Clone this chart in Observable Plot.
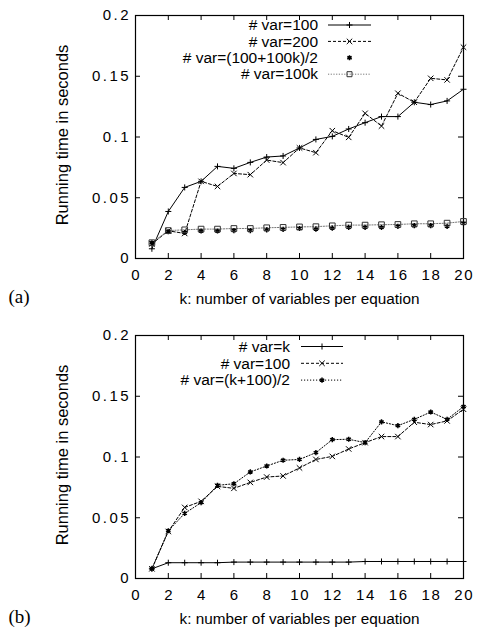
<!DOCTYPE html>
<html><head><meta charset="utf-8">
<script src="https://cdn.jsdelivr.net/npm/d3@7"></script>
<script src="https://cdn.jsdelivr.net/npm/@observablehq/plot@0.6"></script>
<style>
body{margin:0;background:#fff}
#chart{width:477px}
#chart svg{display:block}
#chart g[aria-label="y-axis tick label"]{letter-spacing:2.4px}
#chart g[aria-label="x-axis tick label"]{letter-spacing:1.6px}
</style>
</head><body><div id="chart"></div>
<script>
// ---- data ----
const k = [1,2,3,4,5,6,7,8,9,10,11,12,13,14,15,16,17,18,19,20];
const xTickLabels = [0,2,4,6,8,10,12,14,16,18,20];
const yTickLabels = [0,0.05,0.1,0.15,0.2];

// panel (a)
const var100   = [0.008,0.0387,0.0585,0.0635,0.0758,0.0742,0.0791,0.0835,0.0844,0.091,0.098,0.1005,0.1066,0.1118,0.1168,0.1168,0.1286,0.1267,0.1297,0.1393];
const var200   = [0.012,0.0228,0.0206,0.0635,0.0593,0.070,0.069,0.081,0.0789,0.091,0.0871,0.1052,0.0997,0.1195,0.109,0.136,0.1286,0.1483,0.147,0.1739];
const varMidA  = [0.013,0.022,0.0214,0.0226,0.0226,0.023,0.023,0.0236,0.024,0.0247,0.0242,0.025,0.0256,0.0256,0.0256,0.0264,0.027,0.027,0.0264,0.029];
const var100k  = [0.013,0.023,0.0236,0.0242,0.0242,0.0247,0.0247,0.0253,0.0256,0.026,0.0262,0.0269,0.0275,0.0275,0.0278,0.028,0.0286,0.0286,0.0291,0.0305];
// panel (b)
const varK     = [0.008,0.013,0.013,0.013,0.013,0.0135,0.0135,0.0135,0.0135,0.0135,0.0135,0.0135,0.0135,0.014,0.014,0.014,0.014,0.014,0.014,0.014];
const varMidB  = [0.008,0.0393,0.0536,0.0624,0.0767,0.078,0.0877,0.0926,0.0973,0.098,0.1036,0.1143,0.1146,0.1118,0.1289,0.1258,0.131,0.137,0.131,0.1415];

const namesA = ["# var=100","# var=200","# var=(100+100k)/2","# var=100k"];
const namesB = ["# var=k","# var=100","# var=(k+100)/2"];
const xLabel = "k: number of variables per equation";
const yLabel = "Running time in seconds";

// ---- styles ----
const FONT = "'Liberation Sans', Arial, Helvetica, sans-serif";
const styles = {
  solid:  {stroke:"#000", strokeWidth:1, dash:null},
  dashed: {stroke:"#000", strokeWidth:1, dash:"3,2"},
  dotted: {stroke:"#000", strokeWidth:1, dash:"1.2,1.8"},
  dottedGrey: {stroke:"#777", strokeWidth:1, dash:"1.2,1.5"},
  none: null
};

const W = 477, mL = 135, mR = 14, mT = 15;
const plotH = 243, plotW = W - mL - mR;

function panel({series, height, tag, legend}) {
  const marks = [
    Plot.frame({stroke:"#000", strokeWidth:1.2}),
    Plot.tickX(xTickLabels, {x:d=>d, insetTop: plotH-5, stroke:"#000"}),
    Plot.tickX(xTickLabels, {x:d=>d, insetBottom: plotH-5, stroke:"#000"}),
    Plot.tickY(yTickLabels, {y:d=>d, insetRight: plotW-5, stroke:"#000"}),
    Plot.tickY(yTickLabels, {y:d=>d, insetLeft: plotW-5, stroke:"#000"}),
    Plot.axisX({ticks:xTickLabels, tickSize:0, tickPadding:11, dx:0.8, label:null, fontSize:15, fill:"#000"}),
    Plot.axisY({ticks:yTickLabels, tickSize:0, tickPadding:4.6, tickFormat:d3.format("~g"), label:null, fontSize:15, fill:"#000"}),
    Plot.text([xLabel], {text:d=>d, frameAnchor:"bottom", dy:45, lineAnchor:"bottom", fontSize:15.3, fill:"#000"}),
    Plot.text([yLabel], {text:d=>d, frameAnchor:"left", textAnchor:"middle", dx:-73, dy:-2, rotate:-90, fontSize:16.5, fill:"#000"}),
    Plot.text([tag], {text:d=>d, frameAnchor:"bottom-left", textAnchor:"start", dx:-127, dy:44, lineAnchor:"bottom", fontSize:19, fontFamily:"'Liberation Serif', 'Times New Roman', serif", fill:"#000"})
  ];
  for (const s of series) {
    const st = styles[s.line];
    if (st) marks.push(Plot.line(k, {x:k, y:s.values, stroke:st.stroke, strokeWidth:st.strokeWidth, strokeDasharray:st.dash}));
  }
  for (const s of series) {
    marks.push(Plot.dot(k, {x:k, y:s.values, symbol:s.symbol, r:s.r, stroke:s.mstroke||"#000", fill:s.symbol==="square"?"none":undefined, strokeWidth:s.msw||1}));
  }
  const svg = Plot.plot({
    width: W, height, marginLeft: mL, marginRight: mR, marginTop: mT, marginBottom: height - mT - plotH,
    style: {fontFamily: FONT, fontSize: "15px", color:"#000", background:"#fff"},
    x: {domain:[0,20]},
    y: {domain:[0,0.2]},
    marks
  });
  // legend
  const g = d3.select(svg).append("g").attr("font-family", FONT).attr("font-size", legend.fontSize);
  series.forEach((s, i) => {
    const y = legend.y0 + i*legend.step;
    g.append("text").attr("x", legend.xText).attr("y", y).attr("dy","0.34em").attr("text-anchor","end").attr("fill","#000").text(s.name);
    const st = styles[s.line];
    if (st) g.append("line").attr("x1", legend.x1).attr("x2", legend.x2).attr("y1", y).attr("y2", y)
      .attr("stroke", st.stroke).attr("stroke-width", st.strokeWidth).attr("stroke-dasharray", st.dash);
    const typeMap = {plus:d3.symbolPlus, times:d3.symbolTimes, asterisk:d3.symbolAsterisk, square:d3.symbolSquare2};
    g.append("path").attr("d", d3.symbol(typeMap[s.symbol], Math.PI*s.r*s.r)())
      .attr("transform", `translate(${(legend.x1+legend.x2)/2},${y})`)
      .attr("fill","none").attr("stroke", s.mstroke||"#000").attr("stroke-width", s.msw||1);
  });
  return svg;
}

const chart = document.getElementById("chart");
chart.appendChild(panel({
  tag:"(a)", height:320,
  series:[
    {name:namesA[0], values:var100, line:"solid", symbol:"plus", r:2.1},
    {name:namesA[1], values:var200, line:"dashed", symbol:"times", r:2.6},
    {name:namesA[2], values:varMidA, line:"none", symbol:"asterisk", r:2.4, msw:1.5},
    {name:namesA[3], values:var100k, line:"dottedGrey", symbol:"square", r:3.2, mstroke:"#333"}
  ],
  legend:{xText:318, x1:328, x2:371, y0:25, step:16.4, fontSize:15.5}
}));
chart.appendChild(panel({
  tag:"(b)", height:313,
  series:[
    {name:namesB[0], values:varK, line:"solid", symbol:"plus", r:2.1},
    {name:namesB[1], values:var100, line:"dashed", symbol:"times", r:2.6},
    {name:namesB[2], values:varMidB, line:"dotted", symbol:"asterisk", r:2.4, msw:1.5}
  ],
  legend:{xText:290, x1:301, x2:343, y0:26.5, step:16.8, fontSize:15.5}
}));
</script>
</body></html>
